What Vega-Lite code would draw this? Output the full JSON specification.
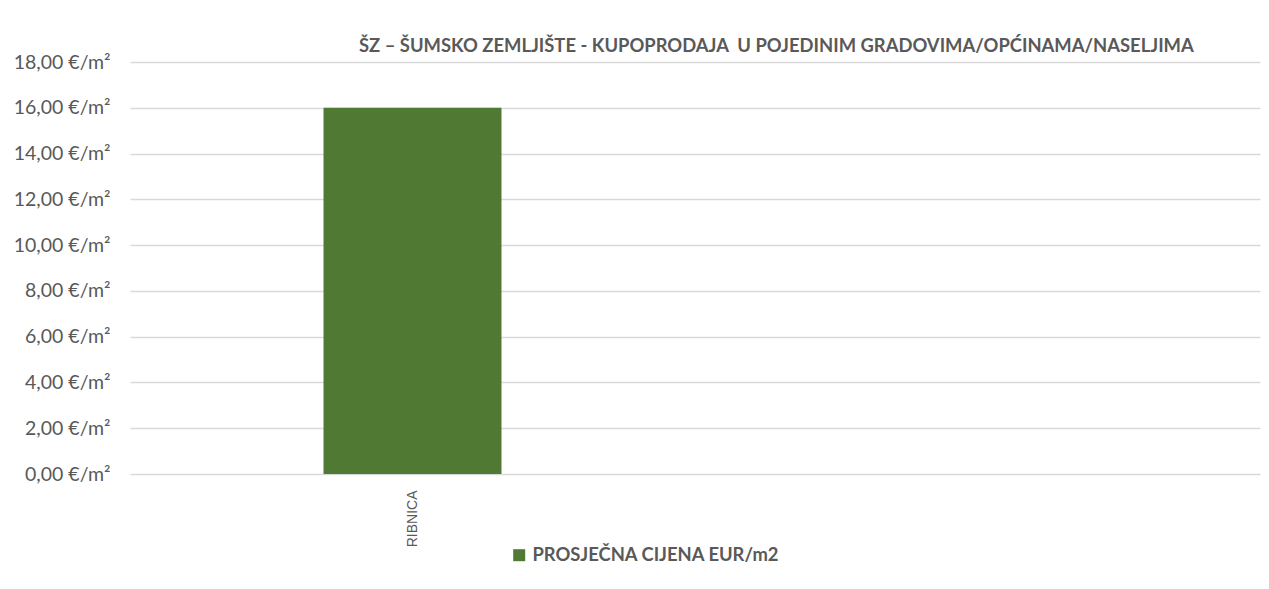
{
  "$schema": "https://vega.github.io/schema/vega-lite/v6.json",
  "width": 1130,
  "height": 412,
  "autosize": {"type": "none"},
  "padding": {"left": 130, "top": 62, "right": 9, "bottom": 115},
  "background": "white",
  "title": {
    "text": "ŠZ – ŠUMSKO ZEMLJIŠTE - KUPOPRODAJA\u00a0 U POJEDINIM GRADOVIMA/OPĆINAMA/NASELJIMA",
    "anchor": "start",
    "frame": "group",
    "dx": 229,
    "offset": -3,
    "font": "Lato",
    "fontSize": 18.4,
    "fontWeight": "bold",
    "color": "#595959"
  },
  "data": {
    "values": [
      {"grad": "RIBNICA", "cijena": 16, "serija": "PROSJEČNA CIJENA EUR/m2"},
      {"grad": " ", "cijena": null, "serija": "PROSJEČNA CIJENA EUR/m2"}
    ]
  },
  "mark": {"type": "bar", "width": {"band": 0.315}},
  "encoding": {
    "x": {
      "field": "grad",
      "type": "nominal",
      "sort": null,
      "scale": {"domain": ["RIBNICA", " "], "paddingInner": 0, "paddingOuter": 0},
      "axis": {
        "title": null,
        "labelAngle": -90,
        "domain": false,
        "ticks": false,
        "grid": false,
        "labelFont": "Liberation Sans",
        "labelFontSize": 14,
        "labelColor": "#595959",
        "labelPadding": 16
      }
    },
    "y": {
      "field": "cijena",
      "type": "quantitative",
      "scale": {"domain": [0, 18], "nice": false},
      "axis": {
        "title": null,
        "values": [0, 2, 4, 6, 8, 10, 12, 14, 16, 18],
        "labelExpr": "replace(format(datum.value, '.2f'), '.', ',') + ' €/m²'",
        "domain": false,
        "ticks": false,
        "grid": true,
        "gridColor": "#D9D9D9",
        "gridWidth": 1.3,
        "labelFont": "Lato",
        "labelFontSize": 19.5,
        "labelColor": "#595959",
        "labelPadding": 20
      }
    },
    "color": {
      "field": "serija",
      "type": "nominal",
      "scale": {"range": ["#507933"]},
      "legend": {
        "title": null,
        "orient": "none",
        "legendX": 380,
        "legendY": 484,
        "symbolType": "square",
        "symbolSize": 144,
        "symbolStrokeWidth": 0,
        "labelFont": "Lato",
        "labelFontSize": 18.4,
        "labelFontWeight": "bold",
        "labelColor": "#595959",
        "labelOffset": 4,
        "labelLimit": 500
      }
    }
  },
  "config": {"view": {"stroke": null}}
}
